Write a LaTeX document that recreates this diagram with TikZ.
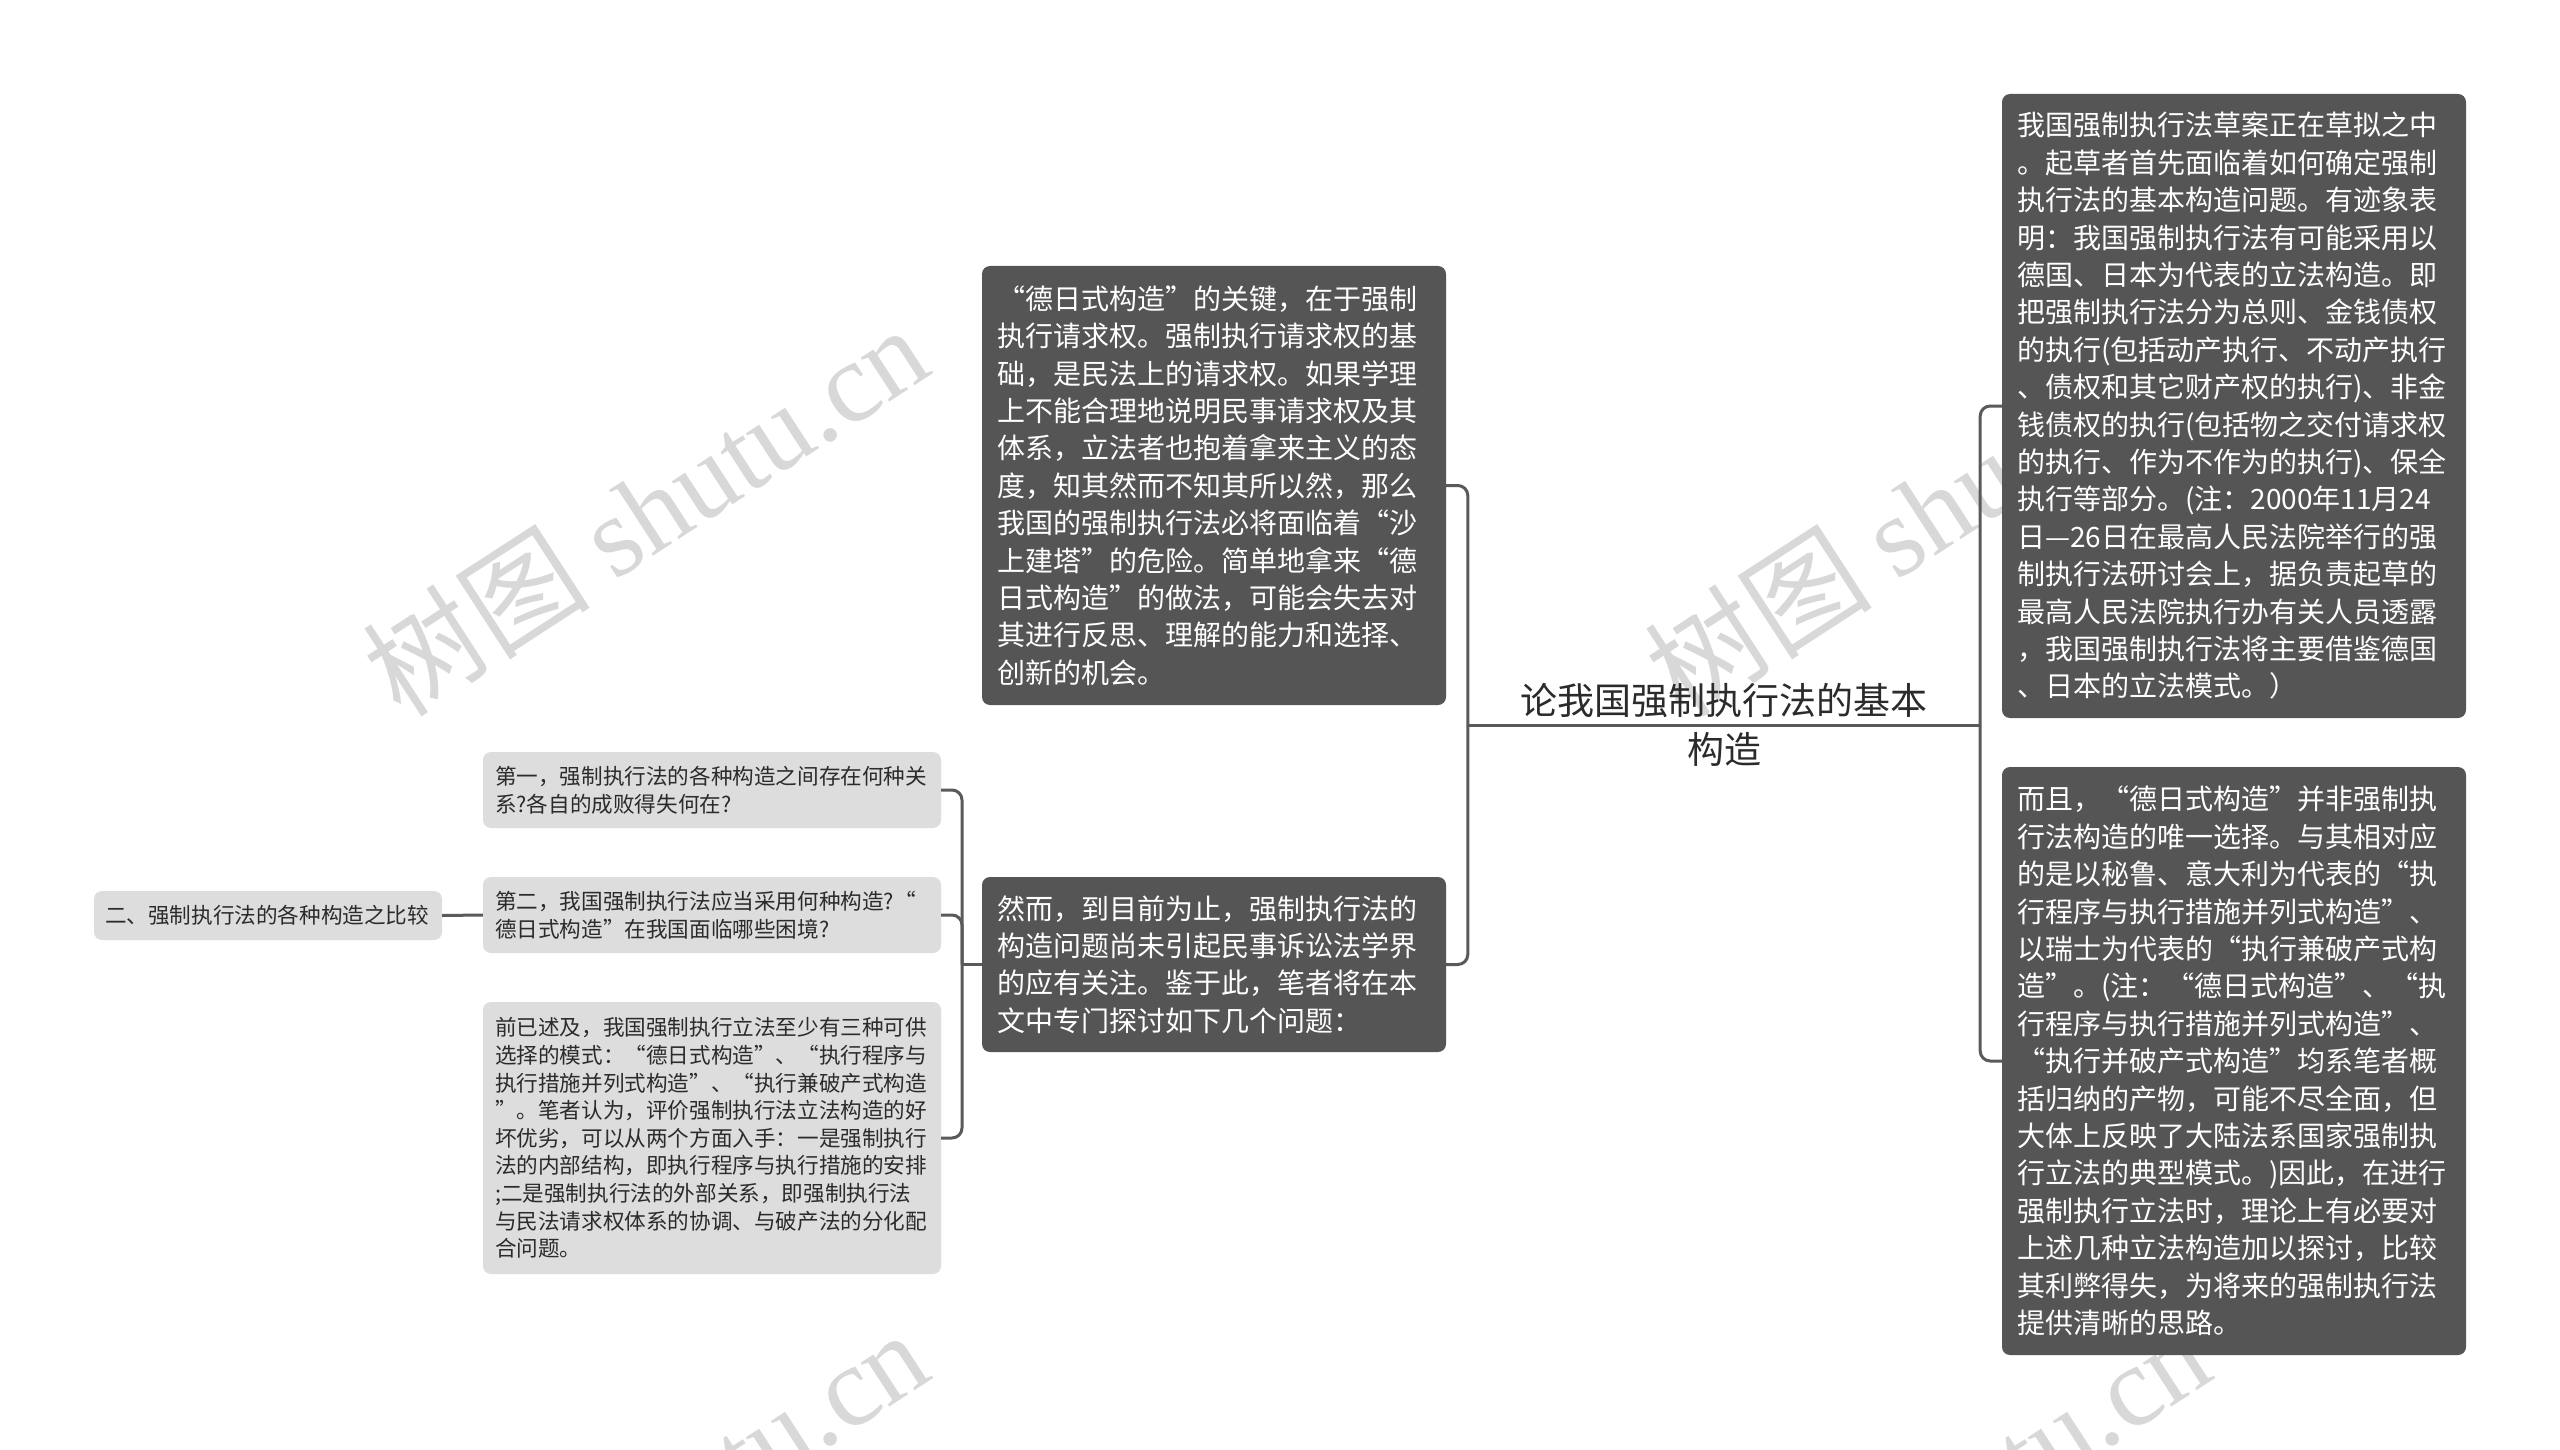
\documentclass[tikz,border=0pt]{standalone}
\usepackage{fontspec}
\setmainfont{Noto Sans CJK SC}
\newfontfamily\wmlatin{Liberation Serif}
\definecolor{boxdark}{HTML}{555555}
\definecolor{boxlight}{HTML}{DDDDDD}
\definecolor{linec}{HTML}{5A5A5A}
\definecolor{wmc}{HTML}{D8D8D8}
\definecolor{txtdark}{HTML}{2B2B2B}
\begin{document}
\begin{tikzpicture}[x=1pt,y=-1pt,
  darkbox/.style={fill=boxdark, rounded corners=8pt, text=white, align=left,
    inner xsep=15pt, inner ysep=0pt, text width=434pt,
    font=\fontsize{28}{37.4}\selectfont},
  lightbox/.style={fill=boxlight, rounded corners=8pt, text=txtdark, align=left,
    inner xsep=12pt, inner ysep=0pt, text width=434pt,
    font=\fontsize{21.6}{27.6}\selectfont},
  rootnode/.style={text=txtdark, align=center, inner sep=0pt, minimum width=512pt,
    font=\fontsize{37}{49}\selectfont},
  wmark/.style={text=wmc, inner sep=0pt, rotate=33, font=\fontsize{114}{114}\selectfont},
  conn/.style={draw=linec, line width=3pt, rounded corners=10pt}]
\useasboundingbox (0,0) rectangle (2560,1450);
\fill[white] (0,0) rectangle (2560,1450);
% watermarks
\node[wmark] (w1) at (645,510) {树图 {\wmlatin shutu.cn}};
\node[wmark] (w2) at (1927,510) {树图 {\wmlatin shutu.cn}};
\node[wmark] (w3) at (645,1514) {树图 {\wmlatin shutu.cn}};
\node[wmark] (w4) at (1927,1514) {树图 {\wmlatin shutu.cn}};
% root
\node[rootnode] (root) at (1724,725) {论我国强制执行法的基本\\构造};
% right boxes
\node[darkbox, minimum height=624pt] (r1) at (2234,406) {我国强制执行法草案正在草拟之中\\
。起草者首先面临着如何确定强制\\
执行法的基本构造问题。有迹象表\\
明：我国强制执行法有可能采用以\\
德国、日本为代表的立法构造。即\\
把强制执行法分为总则、金钱债权\\
的执行(包括动产执行、不动产执行\\
、债权和其它财产权的执行)、非金\\
钱债权的执行(包括物之交付请求权\\
的执行、作为不作为的执行)、保全\\
执行等部分。(注：2000年11月24\\
日—26日在最高人民法院举行的强\\
制执行法研讨会上，据负责起草的\\
最高人民法院执行办有关人员透露\\
，我国强制执行法将主要借鉴德国\\
、日本的立法模式。）};
\node[darkbox, minimum height=588pt] (r2) at (2234,1061) {而且，“德日式构造”并非强制执\\
行法构造的唯一选择。与其相对应\\
的是以秘鲁、意大利为代表的“执\\
行程序与执行措施并列式构造”、\\
以瑞士为代表的“执行兼破产式构\\
造”。(注：“德日式构造”、“执\\
行程序与执行措施并列式构造”、\\
“执行并破产式构造”均系笔者概\\
括归纳的产物，可能不尽全面，但\\
大体上反映了大陆法系国家强制执\\
行立法的典型模式。)因此，在进行\\
强制执行立法时，理论上有必要对\\
上述几种立法构造加以探讨，比较\\
其利弊得失，为将来的强制执行法\\
提供清晰的思路。};
% left middle boxes
\node[darkbox, minimum height=439pt] (b1) at (1214,485.5) {“德日式构造”的关键，在于强制\\
执行请求权。强制执行请求权的基\\
础，是民法上的请求权。如果学理\\
上不能合理地说明民事请求权及其\\
体系，立法者也抱着拿来主义的态\\
度，知其然而不知其所以然，那么\\
我国的强制执行法必将面临着“沙\\
上建塔”的危险。简单地拿来“德\\
日式构造”的做法，可能会失去对\\
其进行反思、理解的能力和选择、\\
创新的机会。};
\node[darkbox, minimum height=175pt] (b2) at (1214,964.5) {然而，到目前为止，强制执行法的\\
构造问题尚未引起民事诉讼法学界\\
的应有关注。鉴于此，笔者将在本\\
文中专门探讨如下几个问题：};
% light boxes
\node[lightbox, minimum height=76pt] (g1) at (712,790) {第一，强制执行法的各种构造之间存在何种关\\
系?各自的成败得失何在?};
\node[lightbox, minimum height=76pt] (g2) at (712,915) {第二，我国强制执行法应当采用何种构造?“\\
德日式构造”在我国面临哪些困境?};
\node[lightbox, minimum height=272pt] (g3) at (712,1138) {前已述及，我国强制执行立法至少有三种可供\\
选择的模式：“德日式构造”、“执行程序与\\
执行措施并列式构造”、“执行兼破产式构造\\
”。笔者认为，评价强制执行法立法构造的好\\
坏优劣，可以从两个方面入手：一是强制执行\\
法的内部结构，即执行程序与执行措施的安排\\
;二是强制执行法的外部关系，即强制执行法\\
与民法请求权体系的协调、与破产法的分化配\\
合问题。};
\node[lightbox, text width=326pt, inner xsep=11pt, minimum height=49pt] (lb) at (268,915.5) {二、强制执行法的各种构造之比较};
% connectors
\coordinate (jl) at (962,964.5);
\draw[conn] (root.west) -- (root.east);
\draw[conn] (root.east) |- (r1.west);
\draw[conn] (root.east) |- (r2.west);
\draw[conn] (root.west) |- (b1.east);
\draw[conn] (root.west) |- (b2.east);
\draw[conn] (b2.west) -- (jl);
\draw[conn] (jl) |- (g1.east);
\draw[conn] (jl) |- (g2.east);
\draw[conn] (jl) |- (g3.east);
\draw[conn] (lb.east) -- (g2.west);
\end{tikzpicture}
\end{document}
